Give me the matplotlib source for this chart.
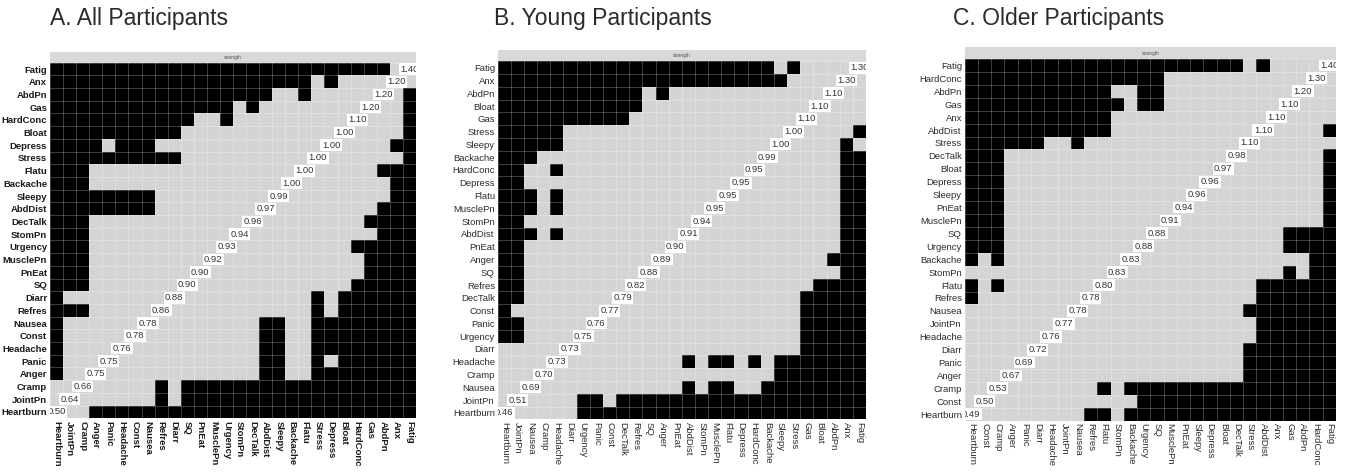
import numpy as np
import matplotlib
matplotlib.use("Agg")
import matplotlib.pyplot as plt
from matplotlib.colors import ListedColormap

plt.rcParams['font.family'] = ['Liberation Sans', 'DejaVu Sans']

# ---- A. All participants ----
rows_a = ["Fatig", "Anx", "AbdPn", "Gas", "HardConc", "Bloat", "Depress", "Stress",
          "Flatu", "Backache", "Sleepy", "AbdDist", "DecTalk", "StomPn", "Urgency",
          "MusclePn", "PnEat", "SQ", "Diarr", "Refres", "Nausea", "Const", "Headache",
          "Panic", "Anger", "Cramp", "JointPn", "Heartburn"]
strength_a = [1.40, 1.20, 1.20, 1.20, 1.10, 1.00, 1.00, 1.00, 1.00, 1.00, 0.99, 0.97,
              0.96, 0.94, 0.93, 0.92, 0.90, 0.90, 0.88, 0.86, 0.78, 0.78, 0.76, 0.75,
              0.75, 0.66, 0.64, 0.50]
# 1 = black cell, columns run Heartburn ... Fatig (reverse of rows)
cells_a = [
    "1111111" "1111111" "1111111" "1111100",  # Fatig
    "1111111" "1111111" "1111110" "1000000",  # Anx
    "1111111" "1111111" "1110010" "0000001",  # AbdPn
    "1111111" "1111111" "0100000" "0000001",  # Gas
    "1111111" "1111001" "0000000" "0000001",  # HardConc
    "1111111" "1110000" "0000000" "0000001",  # Bloat
    "1111011" "1000000" "0000000" "0000011",  # Depress
    "1111111" "1110000" "0000000" "0000001",  # Stress
    "1110000" "0000000" "0000000" "0000111",  # Flatu
    "1110000" "0000000" "0000000" "0000011",  # Backache
    "1111111" "1000000" "0000000" "0000011",  # Sleepy
    "1111111" "1000000" "0000000" "0000111",  # AbdDist
    "1110000" "0000000" "0000000" "0001111",  # DecTalk
    "1110000" "0000000" "0000000" "0000111",  # StomPn
    "1110000" "0000000" "0000000" "0011111",  # Urgency
    "1110000" "0000000" "0000000" "0001111",  # MusclePn
    "1110000" "0000000" "0000000" "0001111",  # PnEat
    "1110000" "0000000" "0000000" "0011111",  # SQ
    "1000000" "0000000" "0000001" "0111111",  # Diarr
    "1110000" "0000000" "0000001" "0111111",  # Refres
    "1000000" "0000000" "0011001" "1111111",  # Nausea
    "1000000" "0000000" "0011001" "1111111",  # Const
    "1000000" "0000000" "0011001" "1111111",  # Headache
    "1000000" "0000000" "0011001" "0111111",  # Panic
    "1000000" "0000000" "0011001" "1111111",  # Anger
    "0000000" "0101111" "1111111" "1111111",  # Cramp
    "0000000" "0101111" "1111111" "1111111",  # JointPn
    "0001111" "1111111" "1111111" "1111111",  # Heartburn
]

# ---- B. Young participants ----
rows_b = ["Fatig", "Anx", "AbdPn", "Bloat", "Gas", "Stress", "Sleepy", "Backache",
          "HardConc", "Depress", "Flatu", "MusclePn", "StomPn", "AbdDist", "PnEat",
          "Anger", "SQ", "Refres", "DecTalk", "Const", "Panic", "Urgency", "Diarr",
          "Headache", "Cramp", "Nausea", "JointPn", "Heartburn"]
strength_b = [1.30, 1.30, 1.10, 1.10, 1.10, 1.00, 1.00, 0.99, 0.95, 0.95, 0.95, 0.95,
              0.94, 0.91, 0.90, 0.89, 0.88, 0.82, 0.79, 0.77, 0.76, 0.75, 0.73, 0.73,
              0.70, 0.69, 0.51, 0.46]
cells_b = [
    "1111111" "1111111" "1111111" "0100000",  # Fatig
    "1111111" "1111111" "1111111" "1000000",  # Anx
    "1111111" "1111010" "0000000" "0000000",  # AbdPn
    "1111111" "1111000" "0000000" "0000000",  # Bloat
    "1111111" "1110000" "0000000" "0000000",  # Gas
    "1111100" "0000000" "0000000" "0000001",  # Stress
    "1111100" "0000000" "0000000" "0000010",  # Sleepy
    "1110000" "0000000" "0000000" "0000011",  # Backache
    "1100100" "0000000" "0000000" "0000011",  # HardConc
    "1100000" "0000000" "0000000" "0000011",  # Depress
    "1110100" "0000000" "0000000" "0000011",  # Flatu
    "1110100" "0000000" "0000000" "0000011",  # MusclePn
    "1100000" "0000000" "0000000" "0000011",  # StomPn
    "1110100" "0000000" "0000000" "0000011",  # AbdDist
    "1100000" "0000000" "0000000" "0000011",  # PnEat
    "1100000" "0000000" "0000000" "0000111",  # Anger
    "1100000" "0000000" "0000000" "0000011",  # SQ
    "1100000" "0000000" "0000000" "0001111",  # Refres
    "1100000" "0000000" "0000000" "0011111",  # DecTalk
    "1000000" "0000000" "0000000" "0011111",  # Const
    "1100000" "0000000" "0000000" "0011111",  # Panic
    "1100000" "0000000" "0000000" "0011111",  # Urgency
    "0000000" "0000000" "0000000" "0011111",  # Diarr
    "0000000" "0000000" "1011010" "1111111",  # Headache
    "0000000" "0000000" "0000000" "1111111",  # Cramp
    "0000000" "0000000" "1011001" "1111111",  # Nausea
    "0000001" "1011111" "1111111" "1111111",  # JointPn
    "0000001" "1111111" "1111111" "1111111",  # Heartburn
]

# ---- C. Older participants ----
rows_c = ["Fatig", "HardConc", "AbdPn", "Gas", "Anx", "AbdDist", "Stress", "DecTalk",
          "Bloat", "Depress", "Sleepy", "PnEat", "MusclePn", "SQ", "Urgency", "Backache",
          "StomPn", "Flatu", "Refres", "Nausea", "JointPn", "Headache", "Diarr", "Panic",
          "Anger", "Cramp", "Const", "Heartburn"]
strength_c = [1.40, 1.30, 1.20, 1.10, 1.10, 1.10, 1.10, 0.98, 0.97, 0.96, 0.96, 0.94,
              0.91, 0.88, 0.88, 0.83, 0.83, 0.80, 0.78, 0.78, 0.77, 0.76, 0.72, 0.69,
              0.67, 0.53, 0.50, 0.49]
cells_c = [
    "1111111" "1111111" "1111111" "0100000",  # Fatig
    "1111111" "1111111" "1000000" "0000000",  # HardConc
    "1111111" "1111001" "1000000" "0000000",  # AbdPn
    "1111111" "1111101" "1000000" "0000000",  # Gas
    "1111111" "1111000" "0000000" "0000000",  # Anx
    "1111111" "1111000" "0000000" "0000001",  # AbdDist
    "1111110" "0100000" "0000000" "0000000",  # Stress
    "1110000" "0000000" "0000000" "0000001",  # DecTalk
    "1110000" "0000000" "0000000" "0000001",  # Bloat
    "1110000" "0000000" "0000000" "0000001",  # Depress
    "1110000" "0000000" "0000000" "0000001",  # Sleepy
    "1110000" "0000000" "0000000" "0000001",  # PnEat
    "1110000" "0000000" "0000000" "0000001",  # MusclePn
    "1110000" "0000000" "0000000" "0001111",  # SQ
    "1110000" "0000000" "0000000" "0001111",  # Urgency
    "1010000" "0000000" "0000000" "0000011",  # Backache
    "0000000" "0000000" "0000000" "0001011",  # StomPn
    "1010000" "0000000" "0000000" "0111111",  # Flatu
    "1000000" "0000000" "0000000" "0111111",  # Refres
    "0000000" "0000000" "0000000" "1111111",  # Nausea
    "0000000" "0000000" "0000000" "0111111",  # JointPn
    "0000000" "0000000" "0000000" "0111111",  # Headache
    "0000000" "0000000" "0000000" "1111111",  # Diarr
    "0000000" "0000000" "0000000" "1111111",  # Panic
    "0000000" "0000000" "0000000" "1111111",  # Anger
    "0000000" "0001011" "1111111" "1111111",  # Cramp
    "0000000" "0000001" "1111111" "1111111",  # Const
    "0000000" "0011011" "1111111" "1111111",  # Heartburn
]

titles = ["A. All Participants", "B. Young Participants", "C. Older Participants"]

LIGHT = "#d4d4d4"
cmap = ListedColormap([LIGHT, "#000000"])

W, H = 1346, 473
fig = plt.figure(figsize=(W / 100, H / 100), dpi=100)

# axes boxes in pixels: left, top, right, bottom, strip top, title x
boxes = [(50, 62.7, 416, 418.3, 52, 50),
         (497.7, 61.3, 866, 419.3, 50, 494),
         (964.7, 59, 1336, 420.7, 47, 953)]
panels = [(rows_a, strength_a, cells_a, True),
          (rows_b, strength_b, cells_b, False),
          (rows_c, strength_c, cells_c, False)]

for (rows, strength, cells, bold), (l, t, r, b, st, tx), title in zip(panels, boxes, titles):
    n = len(rows)
    assert all(len(s) == n for s in cells) and len(cells) == n
    M = np.array([[int(ch) for ch in s] for s in cells])
    cols = rows[::-1]

    ax = fig.add_axes([l / W, 1 - b / H, (r - l) / W, (b - t) / H])
    ax.pcolormesh(np.arange(n + 1), np.arange(n + 1), M, cmap=cmap, vmin=0, vmax=1)
    ax.set_xlim(0, n)
    ax.set_ylim(n, 0)
    ax.set_xticks(np.arange(n) + 0.5)
    ax.set_yticks(np.arange(n) + 0.5)
    weight = "bold" if bold else "normal"
    tcol = "#1a1a1a" if bold else "#2b2b2b"
    ax.set_xticklabels(cols, rotation=270, fontsize=6.8, fontweight=weight, color=tcol)
    ax.set_yticklabels(rows, fontsize=6.8, fontweight=weight, color=tcol)
    ax.set_xticks(np.arange(n + 1), minor=True)
    ax.set_yticks(np.arange(n + 1), minor=True)
    ax.tick_params(which="both", length=0, pad=2)
    ax.grid(which="minor", color="white", alpha=0.25, linewidth=0.7)
    ax.set_axisbelow(False)
    for sp in ax.spines.values():
        sp.set_visible(False)

    # diagonal strength labels
    for i, v in enumerate(strength):
        ax.text(n - 1 - i + 0.5, i + 0.5, f"{v:.2f}", ha="center", va="center",
                fontsize=6.8, color="#333333", clip_on=True,
                bbox=dict(boxstyle="square,pad=0.15", fc="white", ec="none"))

    # facet strip
    sax = fig.add_axes([l / W, 1 - t / H, (r - l) / W, (t - st) / H])
    sax.set_facecolor("#d9d9d9")
    sax.set_xticks([])
    sax.set_yticks([])
    for sp in sax.spines.values():
        sp.set_visible(False)
    sax.text(0.5, 0.5, "strength", ha="center", va="center", fontsize=3.5,
             color="#555555", transform=sax.transAxes)

    fig.text(tx / W, 1 - 19 / H, title, ha="left", va="center", fontsize=16.5,
             color="#2a2a2a")

fig.savefig("out.png", dpi=100)
